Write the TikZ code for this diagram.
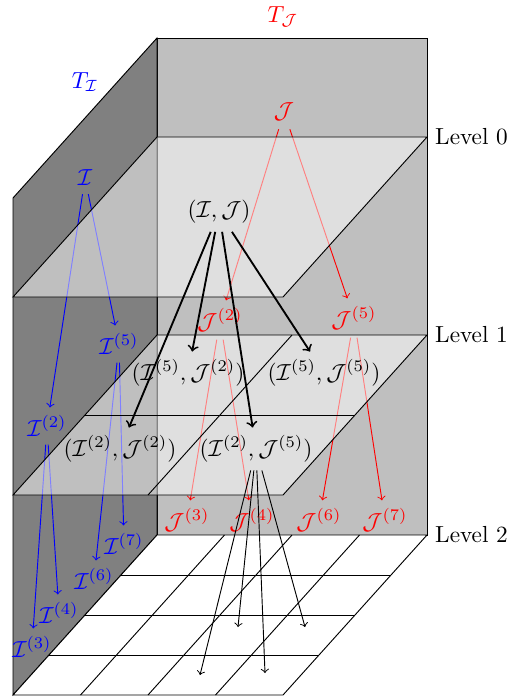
\documentclass[tikz,border=0pt]{standalone}
\usepackage{amsmath}
\begin{document}
\begin{tikzpicture}[x=0.43pt,y=-0.43pt,
  plane/.style={draw=black, fill=white, fill opacity=0.5},
  floorplane/.style={draw=black, fill=white},
  bwall/.style={draw=black, fill=gray!50},
  lwall/.style={draw=black, fill=gray},
  iarr/.style={->, blue},
  jarr/.style={->, red},
  parr/.style={->, thick, black},
  garr/.style={->, black},
  lvl/.style={anchor=west},
  inode/.style={text=blue},
  jnode/.style={text=red},
  pnode/.style={text=black}]
\useasboundingbox (0,0) rectangle (510,699);
% walls
\draw[bwall] (157,38) rectangle (427,535);
\draw[lwall] (157,38) -- (13,198) -- (13,695) -- (157,535) -- cycle;
% level 2 floor grid
\draw[floorplane] (157,535) -- (427,535) -- (283,695) -- (13,695) -- cycle;
\foreach \k in {1,2,3} \draw ({157-36*\k},{535+40*\k}) -- ({427-36*\k},{535+40*\k});
\foreach \j in {1,2,3} \draw ({157+67.5*\j},535) -- ({13+67.5*\j},695);
% labels
\node[inode] (TI) at (85,82) {$T_{\mathcal{I}}$};
\node[jnode] (TJ) at (283,17) {$T_{\mathcal{J}}$};
\node[lvl] (L0) at (427,137) {Level 0};
\node[lvl] (L1) at (427,335) {Level 1};
\node[lvl] (L2) at (427,535) {Level 2};
% coloured nodes
\node[inode] (I) at (85,178) {$\mathcal{I}$};
\node[jnode] (J) at (284,112) {$\mathcal{J}$};
\node[inode] (I5) at (119,344) {$\mathcal{I}^{(5)}$};
\node[inode] (I2) at (47,426) {$\mathcal{I}^{(2)}$};
\node[jnode] (J2) at (220,320) {$\mathcal{J}^{(2)}$};
\node[jnode] (J5) at (354,318) {$\mathcal{J}^{(5)}$};
\node[jnode] (J3) at (187,520) {$\mathcal{J}^{(3)}$};
\node[jnode] (J4) at (252,520) {$\mathcal{J}^{(4)}$};
\node[jnode] (J6) at (319,520) {$\mathcal{J}^{(6)}$};
\node[jnode] (J7) at (385,520) {$\mathcal{J}^{(7)}$};
\node[inode] (I7) at (124,544) {$\mathcal{I}^{(7)}$};
\node[inode] (I6) at (94,579) {$\mathcal{I}^{(6)}$};
\node[inode] (I4) at (59,613) {$\mathcal{I}^{(4)}$};
\node[inode] (I3) at (32,647) {$\mathcal{I}^{(3)}$};
% coloured arrows
\draw[iarr] (I) -- (I2);
\draw[iarr] (I) -- (I5);
\draw[jarr] (J) -- (J2);
\draw[jarr] (J) -- (J5);
\draw[iarr] (I5) -- (I7);
\draw[iarr] (I5) -- (I6);
\draw[iarr] (I2) -- (I4);
\draw[iarr] (I2) -- (I3);
\draw[jarr] (J2) -- (J3);
\draw[jarr] (J2) -- (J4);
\draw[jarr] (J5) -- (J6);
\draw[jarr] (J5) -- (J7);
% level planes
\draw[plane] (157,137) -- (427,137) -- (283,297) -- (13,297) -- cycle;
\draw[plane] (157,335) -- (427,335) -- (283,495) -- (13,495) -- cycle;
\draw (85,415) -- (355,415);
\draw (292,335) -- (148,495);
% pair nodes
\node[pnode] (P) at (219,212) {$(\mathcal{I},\mathcal{J})$};
\node[pnode] (P52) at (188,373) {$(\mathcal{I}^{(5)},\mathcal{J}^{(2)})$};
\node[pnode] (P55) at (324,373) {$(\mathcal{I}^{(5)},\mathcal{J}^{(5)})$};
\node[pnode] (P22) at (120,449) {$(\mathcal{I}^{(2)},\mathcal{J}^{(2)})$};
\node[pnode] (P25) at (256,449) {$(\mathcal{I}^{(2)},\mathcal{J}^{(5)})$};
\coordinate (G1) at (200,675);
\coordinate (G2) at (238,627);
\coordinate (G3) at (265,673);
\coordinate (G4) at (305,627);
% black arrows
\draw[parr] (P) -- (P22);
\draw[parr] (P) -- (P52);
\draw[parr] (P) -- (P25);
\draw[parr] (P) -- (P55);
\draw[garr] (P25) -- (G1);
\draw[garr] (P25) -- (G2);
\draw[garr] (P25) -- (G3);
\draw[garr] (P25) -- (G4);
\end{tikzpicture}
\end{document}
